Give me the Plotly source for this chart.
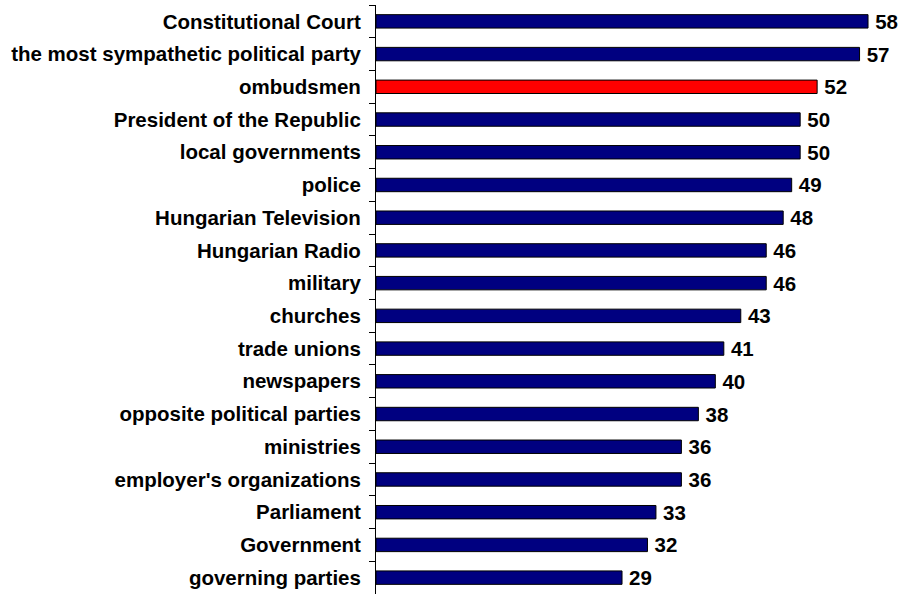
import plotly.graph_objects as go

# Institutions and their trust scores (top to bottom)
institutions = [
    "Constitutional Court",
    "the most sympathetic political party",
    "ombudsmen",
    "President of the Republic",
    "local governments",
    "police",
    "Hungarian Television",
    "Hungarian Radio",
    "military",
    "churches",
    "trade unions",
    "newspapers",
    "opposite political parties",
    "ministries",
    "employer's organizations",
    "Parliament",
    "Government",
    "governing parties",
]
scores = [58, 57, 52, 50, 50, 49, 48, 46, 46, 43, 41, 40, 38, 36, 36, 33, 32, 29]
highlight = "ombudsmen"

navy = "#000080"
red = "#FF0000"
bar_colors = [red if name == highlight else navy for name in institutions]

fig = go.Figure(
    go.Bar(
        x=scores,
        y=institutions,
        orientation="h",
        marker=dict(color=bar_colors, line=dict(color="#000000", width=1)),
        text=scores,
        texttemplate="\u2009%{text}",
        textposition="outside",
        constraintext="none",
        cliponaxis=False,
        textfont=dict(family="Liberation Sans, Arial, sans-serif", size=20.5,
                      color="#000000", weight="bold"),
        hoverinfo="skip",
    )
)

fig.update_layout(
    width=904,
    height=594,
    margin=dict(l=376, r=19, t=5, b=0),
    paper_bgcolor="#FFFFFF",
    plot_bgcolor="#FFFFFF",
    bargap=0.59,
    showlegend=False,
    uniformtext=dict(mode=False),
    font=dict(family="Liberation Sans, Arial, sans-serif", color="#000000"),
)

fig.update_xaxes(
    range=[0, 60],
    visible=False,
    showgrid=False,
    zeroline=False,
)

fig.update_yaxes(
    type="category",
    autorange="reversed",
    showline=True,
    linecolor="#000000",
    linewidth=1,
    ticks="outside",
    tickson="boundaries",
    ticklen=6,
    tickcolor="#000000",
    tickwidth=1,
    ticklabelstandoff=10,
    showgrid=False,
    zeroline=False,
    tickfont=dict(family="Liberation Sans, Arial, sans-serif", size=20.5,
                  color="#000000", weight="bold"),
)

fig.write_html("out.html")
